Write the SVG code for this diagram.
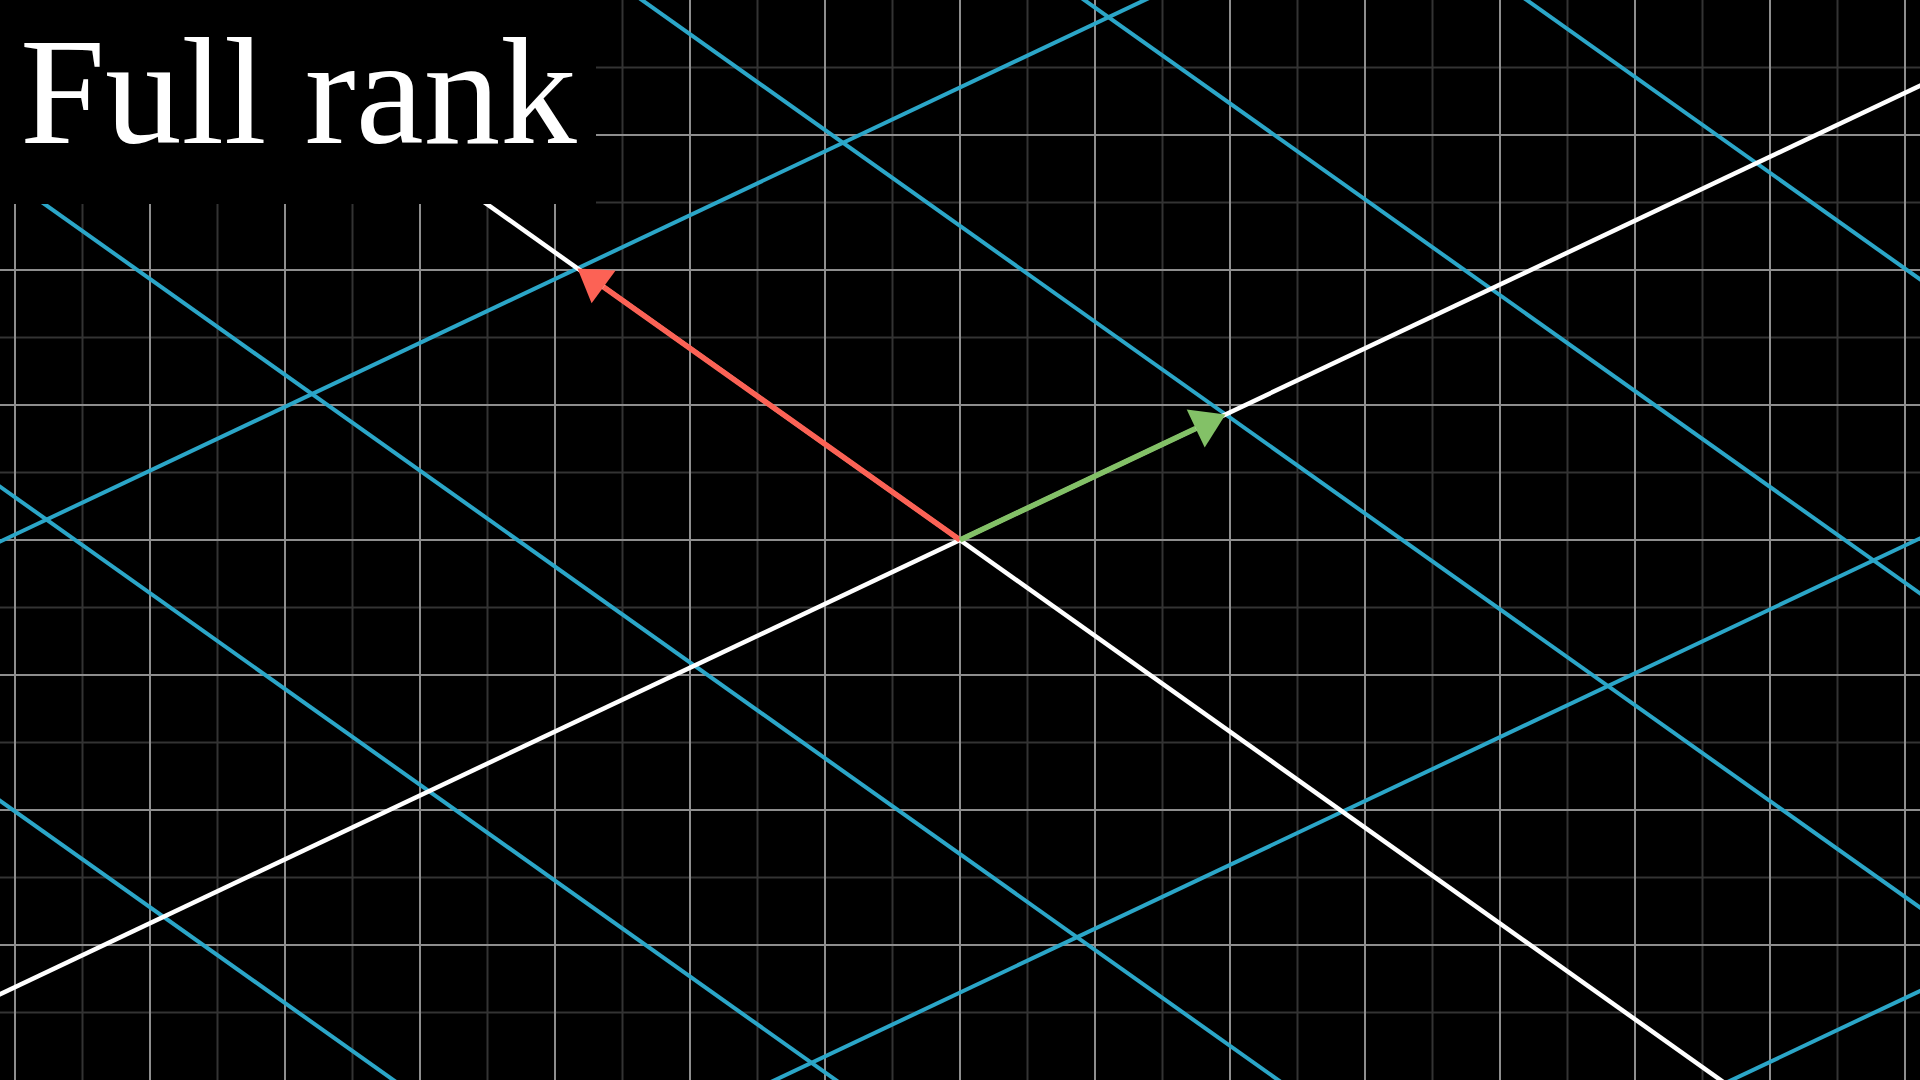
<svg xmlns="http://www.w3.org/2000/svg" width="1920" height="1080" viewBox="0 0 1920 1080">
  <style>
    .faint { stroke: #333333; stroke-width: 2; fill: none; }
    .major { stroke: #8e8e8e; stroke-width: 2; fill: none; }
    .lattice { stroke: #2BA6C8; stroke-width: 4; fill: none; }
    .axis { stroke: #ffffff; stroke-width: 4.5; fill: none; }
    .title { font-family: "Liberation Serif", "DejaVu Serif", serif; font-size: 153px; fill: #ffffff; }
  </style>
  <rect x="0" y="0" width="1920" height="1080" fill="#000000"/>

  <g id="background-grid">
    <path class="faint" d="M82.5 0V1080M217.5 0V1080M352.5 0V1080M487.5 0V1080M622.5 0V1080M757.5 0V1080M892.5 0V1080M1027.5 0V1080M1162.5 0V1080M1297.5 0V1080M1432.5 0V1080M1567.5 0V1080M1702.5 0V1080M1837.5 0V1080M0 67.5H1920M0 202.5H1920M0 337.5H1920M0 472.5H1920M0 607.5H1920M0 742.5H1920M0 877.5H1920M0 1012.5H1920"/>
    <path class="major" d="M15 0V1080M150 0V1080M285 0V1080M420 0V1080M555 0V1080M690 0V1080M825 0V1080M960 0V1080M1095 0V1080M1230 0V1080M1365 0V1080M1500 0V1080M1635 0V1080M1770 0V1080M1905 0V1080M0 135H1920M0 270H1920M0 405H1920M0 540H1920M0 675H1920M0 810H1920M0 945H1920"/>
  </g>

  <g id="transformed-grid">
    <line class="lattice" x1="-1366.5" y1="-169.6" x2="1693.5" y2="2003.2"/>
    <line class="lattice" x1="-1101" y1="-295.2" x2="1959" y2="1877.6"/>
    <line class="lattice" x1="-835.5" y1="-420.8" x2="2224.5" y2="1752"/>
    <line class="lattice" x1="-304.5" y1="-672" x2="2755.5" y2="1500.8"/>
    <line class="lattice" x1="-39" y1="-797.6" x2="3021" y2="1375.2"/>
    <line class="lattice" x1="226.5" y1="-923.2" x2="3286.5" y2="1249.6"/>
    <line class="lattice" x1="-399" y1="2088" x2="3849" y2="78.4"/>
    <line class="lattice" x1="-781.5" y1="1816.4" x2="3466.5" y2="-193.2"/>
    <line class="lattice" x1="-1546.5" y1="1273.2" x2="2701.5" y2="-736.4"/>
    <line class="lattice" x1="-1929" y1="1001.6" x2="2319" y2="-1008"/>
  </g>

  <g id="axes">
    <line class="axis" x1="-570" y1="-546.4" x2="2490" y2="1626.4"/>
    <line class="axis" x1="-1164" y1="1544.8" x2="3084" y2="-464.8"/>
  </g>

  <g id="vector-j">
    <line x1="960" y1="540" x2="603.6" y2="286.9" stroke="#FC6255" stroke-width="5.5"/>
    <polygon points="577.5,268.4 615.6,270.6 591.6,303.2" fill="#FC6255"/>
  </g>

  <g id="vector-i">
    <line x1="960" y1="540" x2="1195.7" y2="428.5" stroke="#83C167" stroke-width="5.5"/>
    <polygon points="1225.5,414.4 1186.7,409.4 1204.7,447.6" fill="#83C167"/>
  </g>

  <g id="title">
    <rect x="0" y="0" width="596" height="204" fill="#000000"/>
    <text class="title" x="20" y="143">Full rank</text>
  </g>
</svg>
